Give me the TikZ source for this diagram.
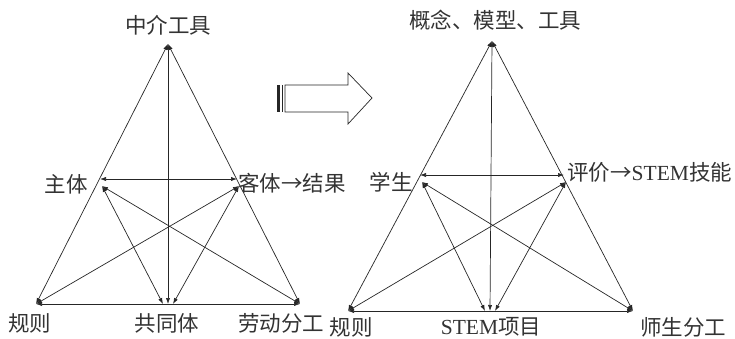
\documentclass[tikz,border=0pt]{standalone}
\usepackage{fontspec}
\setmainfont{Liberation Serif}
\newfontfamily\cjk{Noto Sans CJK SC}
\usetikzlibrary{arrows.meta}
\begin{document}
\begin{tikzpicture}[x=1pt,y=-1pt,
  conn/.style={draw=black!85, line width=0.7pt, {Latex[length=6pt,width=4.2pt]}-{Latex[length=6pt,width=4.2pt]}},
  lbl/.style={font=\cjk\fontsize{21.5}{21.5}\selectfont, text=black!80, inner sep=0pt},
  bigarrow/.style={draw=black!85, line width=0.7pt, fill=white}]
\useasboundingbox (0,0) rectangle (735,339);

% ---------- left triangle ----------
\coordinate (LA) at (168,44);
\coordinate (LL) at (36,304);
\coordinate (LR) at (300,304);
\coordinate (LM) at (168,304);
\coordinate (LMa) at (163,304);
\coordinate (LMb) at (173,304);
\coordinate (LS) at (100,179);
\coordinate (LO) at (237,179);
\coordinate (LSd) at (102,186);
\coordinate (LOd) at (239,186);

\draw[conn] (LA) -- (LL);
\draw[conn] (LA) -- (LR);
\draw[conn] (LL) -- (LR);
\draw[conn] (LA) -- (LM);
\draw[conn] (LS) -- (LO);
\draw[conn] (LSd) -- (LMa);
\draw[conn] (LSd) -- (LR);
\draw[conn] (LOd) -- (LL);
\draw[conn] (LOd) -- (LMb);

\node[lbl] (t1) at (168,25) {中介工具};
\node[lbl] (t2) at (66,184) {主体};
\node[lbl, anchor=west] (t3) at (238,183) {客体→结果};
\node[lbl] (t4) at (30,323) {规则};
\node[lbl] (t5) at (167,323) {共同体};
\node[lbl] (t6) at (281,323) {劳动分工};

% ---------- big arrow ----------
\draw[bigarrow] (285,85) -- (348,85) -- (348,73) -- (372,98) -- (348,124) -- (348,112) -- (285,112) -- cycle;
\fill[black!85] (277,85) rectangle (280,112);
\draw[black!85, line width=0.7pt] (282.5,85) -- (282.5,112);

% ---------- right triangle ----------
\coordinate (RA) at (492,41);
\coordinate (RL) at (348,311);
\coordinate (RR) at (633,311);
\coordinate (RM) at (490,311);
\coordinate (RMa) at (485,311);
\coordinate (RMb) at (495,311);
\coordinate (RS) at (420,175);
\coordinate (RO) at (564,175);
\coordinate (RSd) at (422,182);
\coordinate (ROd) at (566,182);

\draw[conn] (RA) -- (RL);
\draw[conn] (RA) -- (RR);
\draw[conn] (RL) -- (RR);
\draw[conn] (RA) -- (RM);
\draw[conn] (RS) -- (RO);
\draw[conn] (RSd) -- (RMa);
\draw[conn] (RSd) -- (RR);
\draw[conn] (ROd) -- (RL);
\draw[conn] (ROd) -- (RMb);

\node[lbl] (u1) at (495,20) {概念、模型、工具};
\node[lbl] (u2) at (391,182) {学生};
\node[lbl, anchor=west] (u3) at (567,172) {评价→{\rmfamily STEM}技能};
\node[lbl] (u4) at (351,327) {规则};
\node[lbl] (u5) at (491,327) {{\rmfamily STEM}项目};
\node[lbl] (u6) at (683,327) {师生分工};
\end{tikzpicture}
\end{document}
